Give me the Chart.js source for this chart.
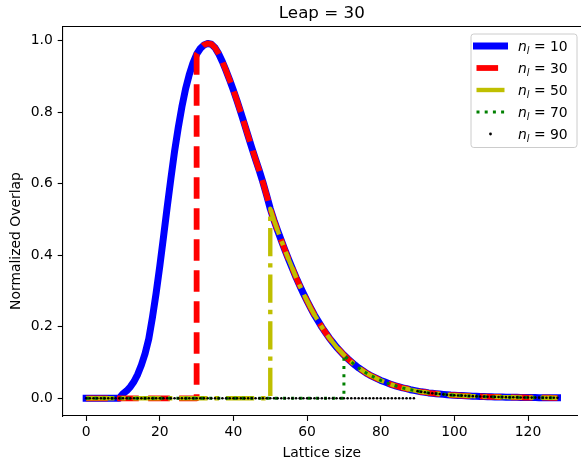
<!DOCTYPE html>
<html><head><meta charset="utf-8">
<script src="https://cdn.jsdelivr.net/npm/chart.js@4/dist/chart.umd.min.js"></script>
<style>html,body{margin:0;padding:0;background:#fff;overflow:hidden}#wrap{width:581px;height:464px;position:relative}</style>
</head><body><div id="wrap"><canvas id="c" width="581" height="464"></canvas></div>
<script>
const latticeSize = [0,1,2,3,4,5,6,7,8,9,10,11,12,13,14,15,16,17,18,19,20,21,22,23,24,25,26,27,28,29,30,31,32,33,34,35,36,37,38,39,40,41,42,43,44,45,46,47,48,49,50,51,52,53,54,55,56,57,58,59,60,61,62,63,64,65,66,67,68,69,70,71,72,73,74,75,76,77,78,79,80,81,82,83,84,85,86,87,88,89,90,91,92,93,94,95,96,97,98,99,100,101,102,103,104,105,106,107,108,109,110,111,112,113,114,115,116,117,118,119,120,121,122,123,124,125,126,127,128];
const overlap = [0,0,0,0,0,0,0.001,0.002,0.004,0.008,
0.013,0.021,0.032,0.047,0.067,0.093,0.125,0.166,0.226,0.294,
0.370,0.451,0.534,0.614,0.690,0.756,0.815,0.865,0.905,0.937,
0.962,0.978,0.988,0.992,0.990,0.980,0.963,0.941,0.916,0.889,
0.861,0.831,0.799,0.766,0.733,0.700,0.668,0.637,0.604,0.568,
0.530,0.498,0.469,0.441,0.414,0.388,0.363,0.338,0.315,0.293,
0.272,0.252,0.233,0.216,0.199,0.184,0.169,0.156,0.143,0.132,
0.121,0.111,0.102,0.093,0.085,0.078,0.071,0.065,0.060,0.055,
0.050,0.046,0.042,0.038,0.035,0.032,0.029,0.027,0.024,0.022,
0.020,0.018,0.017,0.015,0.014,0.013,0.012,0.011,0.010,0.009,
0.0085,0.008,0.0075,0.007,0.0065,0.006,0.0056,0.0052,0.0048,0.0045,
0.0042,0.0039,0.0036,0.0034,0.0032,0.003,0.0028,0.0026,0.0024,0.0022,
0.0021,0.002,0.0019,0.0018,0.0017,0.0016,0.0015,0.0014,0.0013];
const seriesStart = [10,30,50,70,90];
const seriesNames = ['10','30','50','70','90'];
const xTicks = [0,20,40,60,80,100,120];
const yTicks = [0,0.2,0.4,0.6,0.8,1.0];
const chartTitle = 'Leap = 30';
const xTitle = 'Lattice size';
const yTitle = 'Normalized Overlap';

const FONT = "'DejaVu Sans', sans-serif";
const styles = [
  {borderColor:'#0000ff', borderWidth:7, borderCapStyle:'square', borderDash:[]},
  {borderColor:'#ff0000', borderWidth:5.8, borderCapStyle:'butt', borderDash:[21.6,9.4]},
  {borderColor:'#bfbf00', borderWidth:4.4, borderCapStyle:'butt', borderDash:[28.2,7.0,4.4,7.0]},
  {borderColor:'#008000', borderWidth:3, borderCapStyle:'butt', borderDash:[3,5.2]},
  {borderColor:'#000000', borderWidth:0, showLine:false, pointRadius:1.3, pointBackgroundColor:'#000', pointBorderWidth:0}
];

function seriesPoints(s, withStep) {
  const pts = [];
  latticeSize.forEach((x, j) => {
    if (x < s) { pts.push({x: x, y: 0}); }
    else {
      if (x === s && withStep) pts.push({x: x, y: 0});
      pts.push({x: x, y: overlap[j]});
    }
  });
  return pts;
}

const datasets = seriesStart.map((s, i) => Object.assign({
  label: 'n_l = ' + seriesNames[i],
  data: seriesPoints(s, i > 0 && i < 4),
  pointRadius: 0, tension: 0, borderJoinStyle: 'round', fill: false,
  order: seriesStart.length - i
}, styles[i]));

const deco = {
  id: 'deco',
  afterDraw(chart) {
    const ctx = chart.ctx, xs = chart.scales.x, ca = chart.chartArea;
    ctx.save();
    ctx.strokeStyle = '#000'; ctx.lineWidth = 1.1;
    ctx.beginPath(); ctx.moveTo(ca.left, ca.top); ctx.lineTo(chart.width, ca.top); ctx.stroke();
    const cx = xs.getPixelForValue(64);
    ctx.fillStyle = '#000';
    ctx.textAlign = 'center'; ctx.textBaseline = 'alphabetic';
    ctx.font = '16.7px ' + FONT;
    ctx.fillText(chartTitle, cx, 18.3);
    ctx.font = '13.9px ' + FONT;
    ctx.fillText(xTitle, cx, 457);
    ctx.save();
    ctx.translate(19.5, 241);
    ctx.rotate(-Math.PI/2);
    ctx.fillText(yTitle, 0, 0);
    ctx.restore();
    const bx = 471, by = 34, bw = 106, bh = 113.5, r = 2.8;
    ctx.beginPath();
    ctx.moveTo(bx + r, by); ctx.lineTo(bx + bw - r, by); ctx.quadraticCurveTo(bx + bw, by, bx + bw, by + r);
    ctx.lineTo(bx + bw, by + bh - r); ctx.quadraticCurveTo(bx + bw, by + bh, bx + bw - r, by + bh);
    ctx.lineTo(bx + r, by + bh); ctx.quadraticCurveTo(bx, by + bh, bx, by + bh - r);
    ctx.lineTo(bx, by + r); ctx.quadraticCurveTo(bx, by, bx + r, by);
    ctx.closePath();
    ctx.fillStyle = 'rgba(255,255,255,0.8)'; ctx.fill();
    ctx.strokeStyle = '#cccccc'; ctx.lineWidth = 1; ctx.stroke();
    const rowsY = [46, 68, 90, 112, 134];
    seriesStart.forEach((s, i) => {
      const y = rowsY[i], st = styles[i];
      if (i < 4) {
        ctx.save();
        ctx.strokeStyle = st.borderColor; ctx.lineWidth = st.borderWidth;
        ctx.lineCap = st.borderCapStyle; ctx.setLineDash(st.borderDash);
        ctx.beginPath(); ctx.moveTo(476.5, y); ctx.lineTo(504.5, y); ctx.stroke();
        ctx.restore();
      } else {
        ctx.fillStyle = '#000'; ctx.beginPath(); ctx.arc(490.5, y, 1.4, 0, Math.PI*2); ctx.fill();
      }
      ctx.fillStyle = '#000'; ctx.textAlign = 'left';
      let tx = 518;
      ctx.font = 'italic 13.9px ' + FONT;
      ctx.fillText('n', tx, y + 5); tx += ctx.measureText('n').width;
      ctx.font = 'italic 9.7px ' + FONT;
      ctx.fillText('l', tx, y + 7.5); tx += ctx.measureText('l').width;
      ctx.font = '13.9px ' + FONT;
      ctx.fillText(' = ' + seriesNames[i], tx, y + 5);
    });
    ctx.restore();
  }
};

new Chart(document.getElementById('c'), {
  type: 'line',
  data: { datasets: datasets },
  options: {
    responsive: false, animation: false, devicePixelRatio: 1,
    layout: { padding: { left: 0, right: 0, top: 26.5, bottom: 0 } },
    plugins: { legend: { display: false }, title: { display: false }, tooltip: { enabled: false } },
    scales: {
      x: {
        type: 'linear', min: -6.4, max: 133.3,
        afterFit(s) { s.height = 48; },
        afterBuildTicks(s) { s.ticks = xTicks.map(v => ({ value: v })); },
        ticks: { color: '#000', font: { family: FONT, size: 13.9 }, padding: 3, maxRotation: 0, callback: v => String(v) },
        grid: { drawOnChartArea: false, drawTicks: true, tickLength: 4.9, tickWidth: 1.1, tickColor: '#000', color: '#000' },
        border: { display: true, color: '#000', width: 1.1 }
      },
      y: {
        type: 'linear', min: -0.0495, max: 1.0395,
        afterFit(s) { s.width = 62.6; },
        afterBuildTicks(s) { s.ticks = yTicks.map(v => ({ value: v })); },
        ticks: { color: '#000', font: { family: FONT, size: 13.9 }, padding: 4.9, callback: v => Number(v).toFixed(1) },
        grid: { drawOnChartArea: false, drawTicks: true, tickLength: 4.9, tickWidth: 1.1, tickColor: '#000', color: '#000' },
        border: { display: true, color: '#000', width: 1.1 }
      }
    }
  },
  plugins: [deco]
});
</script></body></html>
